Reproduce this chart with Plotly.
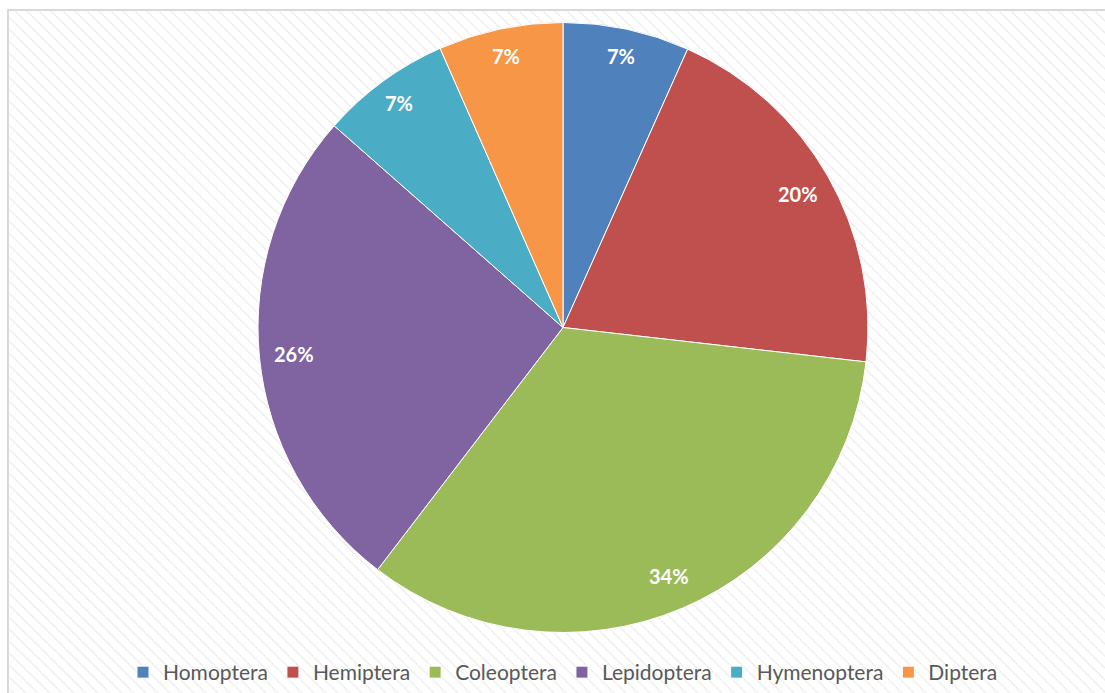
import math
import plotly.graph_objects as go

categories = ["Homoptera", "Hemiptera", "Coleoptera", "Lepidoptera", "Hymenoptera", "Diptera"]
values = [6.7, 20.1, 33.6, 26.1, 6.9, 6.6]
colors = ["#4F81BD", "#C0504D", "#9BBB59", "#8064A2", "#4BACC6", "#F79646"]

W, H = 1105, 693
CX, CY, R = 563, 327.5, 305  # pie centre and domain half-size in pixels

fig = go.Figure()
fig.add_trace(go.Pie(
    labels=categories,
    values=values,
    sort=False,
    direction="clockwise",
    rotation=0,
    marker=dict(colors=colors, line=dict(color="white", width=1)),
    textinfo="none",
    hoverinfo="label+percent",
    domain=dict(x=[(CX - R) / W, (CX + R) / W], y=[1 - (CY + R) / H, 1 - (CY - R) / H]),
))

# data labels at the inside end of each slice (derived from the values)
total = sum(values)
annotations = []
cum = 0.0
RL = 303.5
for cat, v in zip(categories, values):
    frac = v / total
    mid = (cum + frac / 2) * 2 * math.pi
    cum += frac
    rr = RL * (0.915 if frac < 0.1 else 0.89)
    px = CX + rr * math.sin(mid)
    py = CY - rr * math.cos(mid)
    annotations.append(dict(
        x=px / W, y=1 - py / H, xref="paper", yref="paper",
        text=f"{round(frac * 100)}%", showarrow=False,
        xanchor="center", yanchor="middle",
        font=dict(family="Lato", size=20, color="white", weight="bold"),
    ))

# background frame and diagonal hatching (decoration)
shapes = []
fx0, fy0 = 8, 10
shapes.append(dict(type="rect", xref="paper", yref="paper", layer="below",
                   x0=fx0 / W, x1=(W + 20) / W, y0=-20 / H, y1=1 - fy0 / H,
                   line=dict(color="#D9D9D9", width=2), fillcolor="white"))
step = 12
x = -H
while x < W:
    sx, sy = x, fy0 + 1
    if sx < fx0 + 1:
        sy += (fx0 + 1 - sx)
        sx = fx0 + 1
    ex, ey = x + (H - fy0), H
    if sy < H:
        shapes.append(dict(type="line", xref="paper", yref="paper", layer="below",
                           x0=sx / W, y0=1 - sy / H, x1=ex / W, y1=1 - ey / H,
                           line=dict(color="#EEEEEE", width=1.3)))
    x += step

fig.update_layout(
    width=W, height=H,
    margin=dict(l=0, r=0, t=0, b=0),
    paper_bgcolor="white",
    plot_bgcolor="white",
    shapes=shapes,
    annotations=annotations,
    showlegend=True,
    legend=dict(orientation="h", x=563 / W, xanchor="center", y=0, yanchor="bottom",
                font=dict(family="Lato", size=21, color="#595959"),
                traceorder="normal", bgcolor="rgba(0,0,0,0)", itemwidth=30),
)

fig.write_html("out.html")
